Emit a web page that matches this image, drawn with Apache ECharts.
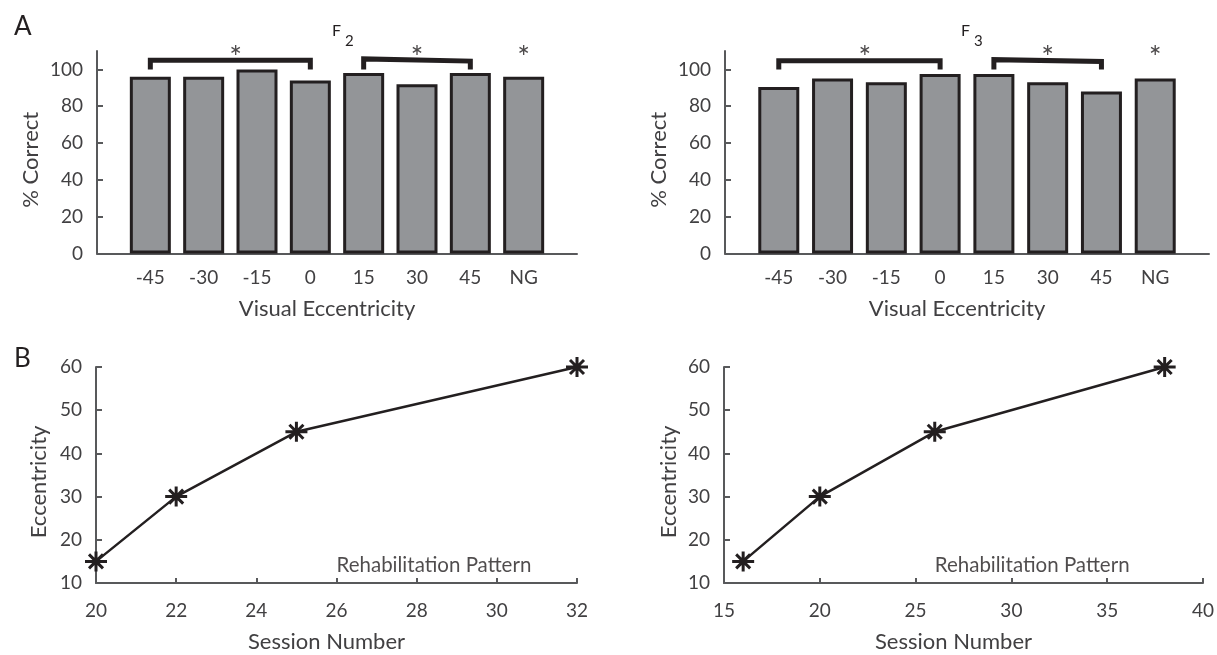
<!DOCTYPE html>
<html>
<head>
<meta charset="utf-8">
<script src="https://cdn.jsdelivr.net/npm/echarts@6/dist/echarts.min.js"></script>
<style>
html,body{margin:0;padding:0;background:#fff;}
#chart{width:1217px;height:655px;}
</style>
</head>
<body>
<div id="chart"></div>
<script>
// ---- data ----
const categories = ['-45', '-30', '-15', '0', '15', '30', '45', 'NG'];
const f2Values = [96, 96, 100, 94, 98, 92, 98, 96];
const f3Values = [90.5, 95, 93, 97.5, 97.5, 93, 88, 95];
const barYTicks = [0, 20, 40, 60, 80, 100];
const barXTicks = [1, 2, 3, 4, 5, 6, 7, 8];

const sessionsF2 = [20, 22, 25, 32];
const eccentricityF2 = [15, 30, 45, 60];
const sessionsF3 = [16, 20, 26, 38];
const eccentricityF3 = [15, 30, 45, 60];

// significance annotations (data coordinates)
const starXs = [2.6, 6, 8];
const starY = 110.6;
const bracketF2a = [[1, 100], [1, 105], [4, 105], [4, 100]];
const bracketF2b = [[5, 100], [5, 105.7], [7, 104.5], [7, 100]];
const bracketF3a = [[1, 100], [1, 104.7], [4, 104.7], [4, 100]];
const bracketF3b = [[5, 100], [5, 105.3], [7, 104.3], [7, 100]];
const rehabLabelPos = [26, 14];

// ---- style ----
const FONT = 'Lato';
const TXT = '#414042';
const DARK = '#231f20';
const AX = '#58595b';
const starPath = 'path://M-1.5,-10 h3 v20 h-3 z M-11,-1.5 h22 v3 h-22 z ' +
  'M-5.94,-8.06 L8.06,5.94 L5.94,8.06 L-8.06,-5.94 Z ' +
  'M5.94,-8.06 L8.06,-5.94 L-5.94,8.06 L-8.06,5.94 Z';
const asteriskPath = 'path://M-1.4,-10 h2.8 v20 h-2.8 z ' +
  'M-7.96,-6.212 L9.36,3.788 L7.96,6.212 L-9.36,-3.788 Z ' +
  'M-9.36,3.788 L7.96,-6.212 L9.36,-3.788 L-7.96,6.212 Z';

const chart = echarts.init(document.getElementById('chart'), null, {renderer: 'canvas'});

function barX(gi) {
  return {
    type: 'value', gridIndex: gi, min: 0, max: 9,
    axisLine: {show: true, lineStyle: {color: AX, width: 2}},
    axisTick: {show: false},
    splitLine: {show: false},
    axisLabel: {customValues: barXTicks, formatter: v => categories[v - 1] || '',
      color: TXT, fontFamily: FONT, fontSize: 19, margin: 15},
    name: 'Visual Eccentricity', nameLocation: 'middle', nameGap: 44,
    nameTextStyle: {color: TXT, fontFamily: FONT, fontSize: 22, padding: [0, 20, 0, 0]}
  };
}
function barY(gi) {
  return {
    type: 'value', gridIndex: gi, min: 0, max: 110,
    axisLine: {show: true, lineStyle: {color: AX, width: 2}},
    axisTick: {show: true, inside: true, length: 6, customValues: barYTicks, lineStyle: {color: AX, width: 2}},
    splitLine: {show: false},
    axisLabel: {customValues: barYTicks, color: TXT, fontFamily: FONT, fontSize: 19, margin: 14},
    name: '% Correct', nameLocation: 'middle', nameGap: 55, nameRotate: 90,
    nameTextStyle: {color: TXT, fontFamily: FONT, fontSize: 22, padding: [0, 15, 0, 0]}
  };
}
function lineX(gi, min, max, interval) {
  return {
    type: 'value', gridIndex: gi, min: min, max: max, interval: interval,
    axisLine: {show: true, lineStyle: {color: AX, width: 2}},
    axisTick: {show: true, inside: true, length: 5, lineStyle: {color: AX, width: 2}},
    splitLine: {show: false},
    axisLabel: {color: TXT, fontFamily: FONT, fontSize: 19, margin: 18},
    name: 'Session Number', nameLocation: 'middle', nameGap: 48,
    nameTextStyle: {color: TXT, fontFamily: FONT, fontSize: 22, padding: [0, 20, 0, 0]}
  };
}
function lineY(gi, gap) {
  return {
    type: 'value', gridIndex: gi, min: 10, max: 60, interval: 10,
    axisLine: {show: true, lineStyle: {color: AX, width: 2}},
    axisTick: {show: true, inside: true, length: 6, lineStyle: {color: AX, width: 2}},
    splitLine: {show: false},
    axisLabel: {color: TXT, fontFamily: FONT, fontSize: 19, margin: 14},
    name: 'Eccentricity', nameLocation: 'middle', nameGap: gap, nameRotate: 90,
    nameTextStyle: {color: TXT, fontFamily: FONT, fontSize: 22, padding: [0, 14, 0, 0]}
  };
}
function barSeries(gi, vals) {
  return {
    type: 'bar', xAxisIndex: gi, yAxisIndex: gi, barWidth: 41,
    data: vals.map((v, i) => [barXTicks[i], v]),
    itemStyle: {color: '#939598', borderColor: DARK, borderWidth: 3},
    silent: true
  };
}
function bracketSeries(gi, pts) {
  return {
    type: 'line', xAxisIndex: gi, yAxisIndex: gi, data: pts, symbol: 'none', clip: false,
    lineStyle: {color: DARK, width: 5, cap: 'butt', join: 'miter'}, silent: true, z: 5
  };
}
function starSeries(gi) {
  return {
    type: 'scatter', xAxisIndex: gi, yAxisIndex: gi, clip: false,
    symbol: asteriskPath, symbolSize: [9, 10],
    itemStyle: {color: DARK},
    data: starXs.map(x => [x, starY]), silent: true
  };
}
function curveSeries(gi, xs, ys) {
  return {
    type: 'line', xAxisIndex: gi, yAxisIndex: gi, clip: false,
    data: xs.map((x, i) => [x, ys[i]]),
    symbol: starPath, symbolSize: [22, 20], showAllSymbol: true,
    itemStyle: {color: DARK}, lineStyle: {color: DARK, width: 2.5}, silent: true, z: 3
  };
}
function rehabSeries(gi) {
  return {
    type: 'scatter', xAxisIndex: gi, yAxisIndex: gi, symbolSize: 0, silent: true,
    data: [rehabLabelPos],
    label: {show: true, position: 'right', distance: 0, formatter: 'Rehabilitation Pattern',
      color: DARK, fontFamily: FONT, fontSize: 20.5}
  };
}

const option = {
  animation: false,
  backgroundColor: '#fff',
  textStyle: {fontFamily: FONT},
  title: [
    {text: 'A', left: 9, top: 9, textStyle: {fontFamily: FONT, fontSize: 26, fontWeight: 'normal', color: DARK}},
    {text: 'B', left: 9, top: 341, textStyle: {fontFamily: FONT, fontSize: 26, fontWeight: 'normal', color: DARK}},
    {text: 'F', left: 327, top: 18, textStyle: {fontFamily: FONT, fontSize: 16, fontWeight: 'normal', color: DARK}},
    {text: '2', left: 340, top: 29, textStyle: {fontFamily: FONT, fontSize: 15, fontWeight: 'normal', color: DARK}},
    {text: 'F', left: 956, top: 18, textStyle: {fontFamily: FONT, fontSize: 16, fontWeight: 'normal', color: DARK}},
    {text: '3', left: 969, top: 29, textStyle: {fontFamily: FONT, fontSize: 15, fontWeight: 'normal', color: DARK}}
  ],
  grid: [
    {left: 97, top: 51, width: 480, height: 202.5},
    {left: 725, top: 51, width: 484, height: 202.5},
    {left: 96, top: 367, width: 481, height: 216},
    {left: 724, top: 367, width: 482, height: 216}
  ],
  xAxis: [barX(0), barX(1), lineX(2, 20, 32, 2), lineX(3, 15, 40, 5)],
  yAxis: [barY(0), barY(1), lineY(2, 46), lineY(3, 44)],
  series: [
    barSeries(0, f2Values), barSeries(1, f3Values),
    bracketSeries(0, bracketF2a), bracketSeries(0, bracketF2b),
    bracketSeries(1, bracketF3a), bracketSeries(1, bracketF3b),
    starSeries(0), starSeries(1),
    curveSeries(2, sessionsF2, eccentricityF2), curveSeries(3, sessionsF3, eccentricityF3),
    rehabSeries(2), rehabSeries(3)
  ]
};
chart.setOption(option);
</script>
</body>
</html>
